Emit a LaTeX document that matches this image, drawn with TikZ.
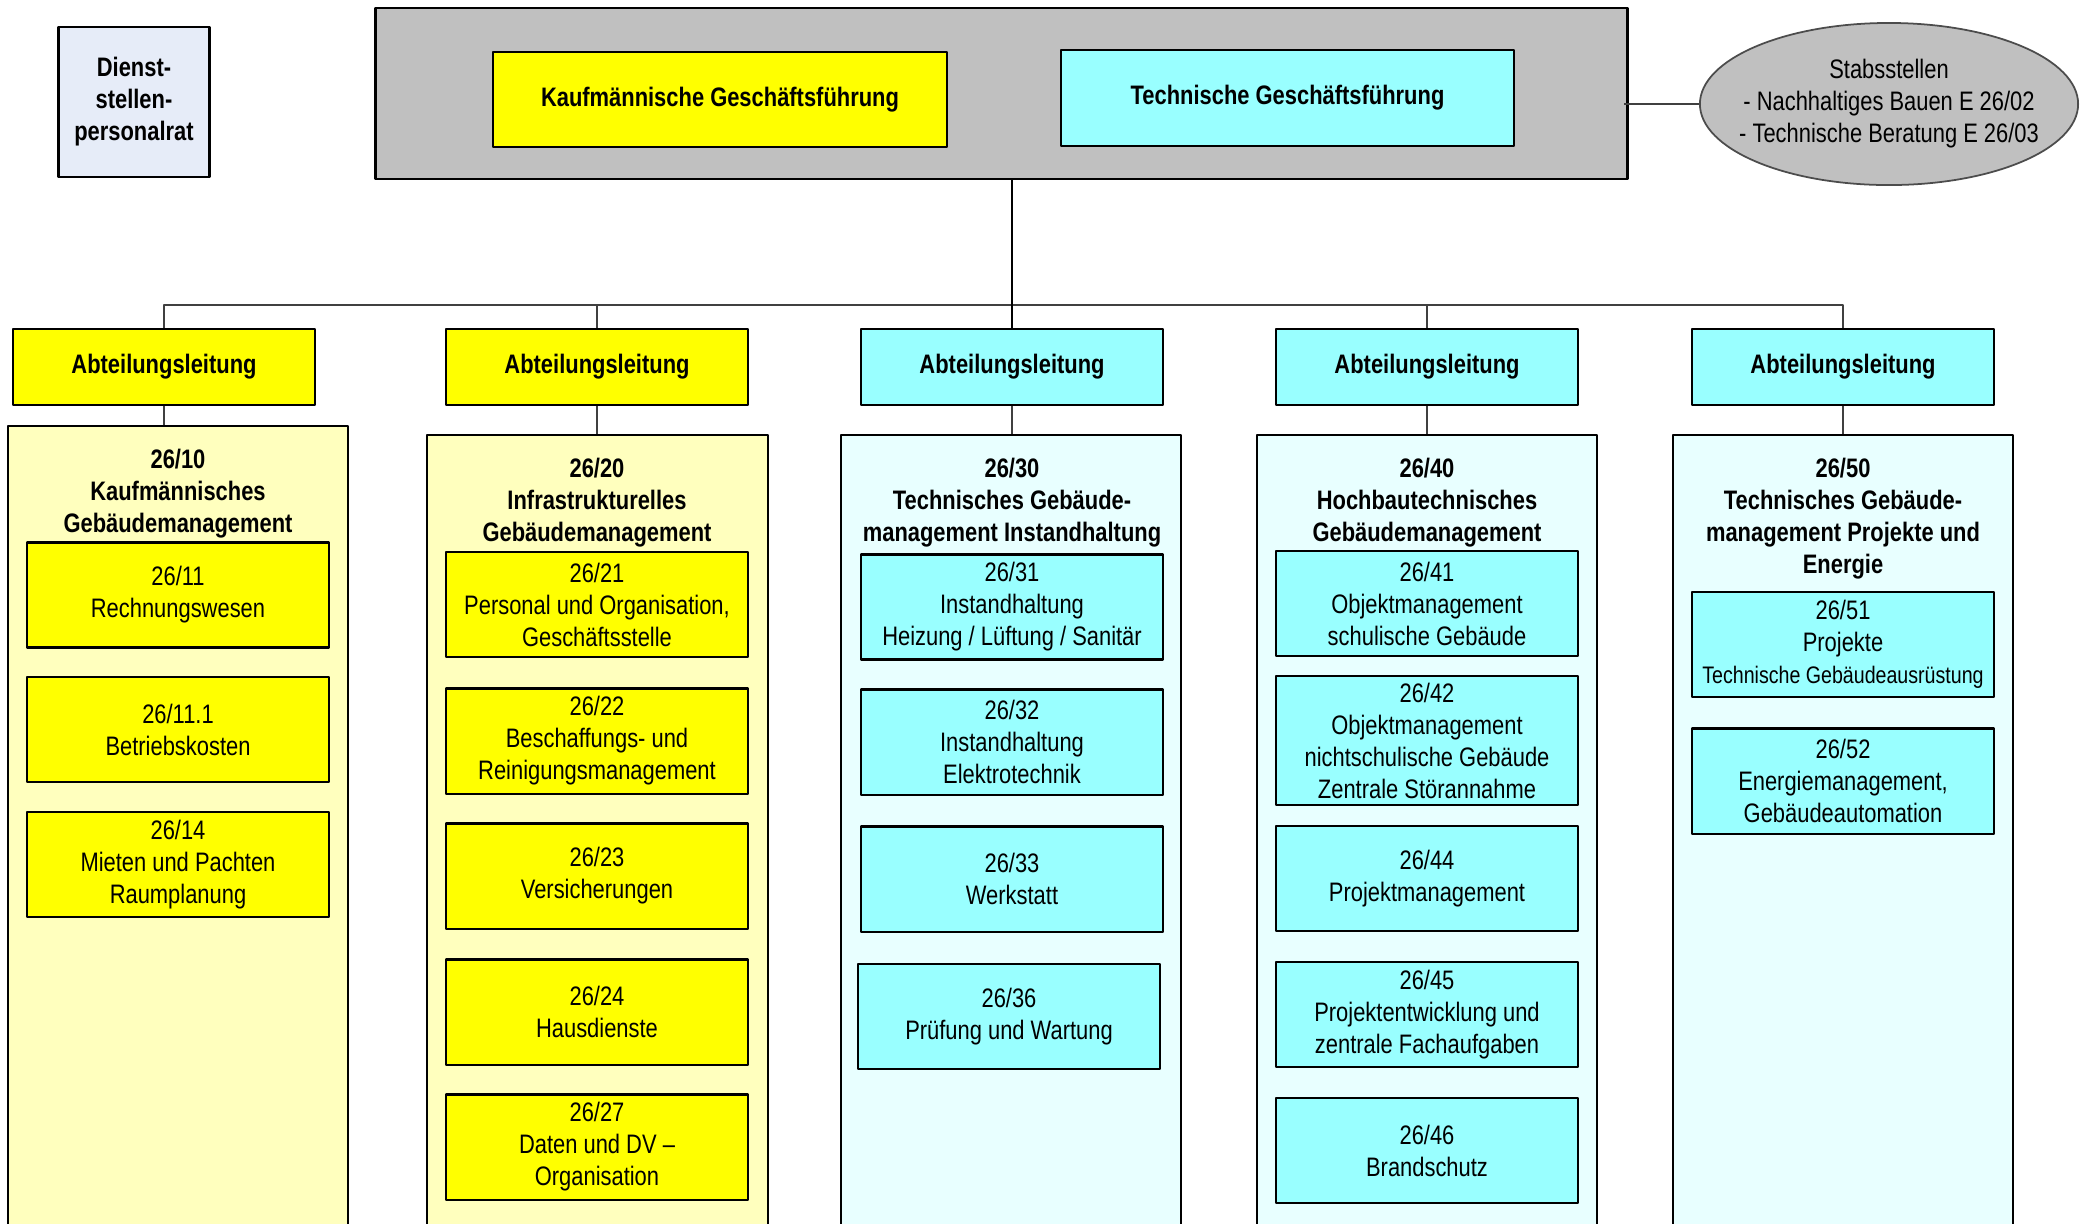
\documentclass[tikz,border=0pt]{standalone}
\usepackage{fontspec}
\setmainfont{Liberation Sans}[FakeStretch=0.82]
\usetikzlibrary{shapes.geometric}
\definecolor{gelb}{HTML}{FFFF00}
\definecolor{hellgelb}{HTML}{FFFFBE}
\definecolor{tuerkis}{HTML}{99FFFF}
\definecolor{helltuerkis}{HTML}{E8FFFF}
\definecolor{grau}{HTML}{C0C0C0}
\definecolor{pr}{HTML}{E6ECF8}
\begin{document}
\begin{tikzpicture}[x=0.01cm,y=-0.01cm,line join=round,
  font=\fontsize{7.6}{9.1}\selectfont,
  every node/.style={align=center,inner sep=1pt},
  rahmen/.style={draw,line width=0.6pt},
  unit/.style={rahmen,minimum width=3.02cm,minimum height=1.05cm},
  al/.style={rahmen,minimum width=3.02cm,minimum height=0.76cm,font=\fontsize{7.6}{9.1}\selectfont\bfseries},
  spalte/.style={rahmen,minimum width=3.4cm,minimum height=8.3cm,anchor=north},
  titel/.style={font=\fontsize{7.6}{9.1}\selectfont\bfseries},
  conn/.style={line width=0.5pt,black!75}]
\useasboundingbox (0,0) rectangle (2082,1223);
\clip (0,0) rectangle (2082,1223);
% Kopf
\node[rahmen,fill=pr,minimum width=1.51cm,minimum height=1.5cm,font=\fontsize{7.6}{9.1}\selectfont\bfseries] (dpr) at (134,102) {Dienst-\\stellen-\\personalrat};
\node[rahmen,line width=0.8pt,fill=grau,minimum width=12.51cm,minimum height=1.71cm] (gf) at (1001.5,93.5) {};
\node[rahmen,fill=gelb,minimum width=4.54cm,minimum height=0.95cm,font=\fontsize{7.6}{9.1}\selectfont\bfseries] (kgf) at (720,99.5) {Kaufmännische Geschäftsführung};
\node[rahmen,fill=tuerkis,minimum width=4.53cm,minimum height=0.96cm,font=\fontsize{7.6}{9.1}\selectfont\bfseries] (tgf) at (1287.5,98) {Technische Geschäftsführung};
\node[ellipse,draw=black!70,line width=0.5pt,fill=grau,minimum width=3.78cm,minimum height=1.62cm,inner sep=0pt] (stab) at (1889,104) {};
\node (stabtxt) at (stab) {Stabsstellen\\- Nachhaltiges Bauen E 26/02\\- Technische Beratung E 26/03};
\draw[conn] (stab.west) -- ([xshift=-0.05cm]stab.west -| gf.east);
% Abteilungen
\foreach \x/\c [count=\i] in {164/gelb,597/gelb,1012/tuerkis,1427/tuerkis,1843/tuerkis}
  \node[al,fill=\c] (al\i) at (\x,367) {Abteilungsleitung};
\draw[conn] (al1.north) -- ++(0,-23) -| (al5.north);
\foreach \i in {2,4}
  \draw[conn] (al\i.north) -- ++(0,-23);
\draw[line width=0.6pt] (al3.north) -- (al3.north |- gf.south);
\foreach \x/\y/\c [count=\i] in {178/425/hellgelb,597.5/434/hellgelb,1011/434/helltuerkis,1427/434/helltuerkis,1843/434/helltuerkis}{
  \node[spalte,fill=\c] (c\i) at (\x,\y) {};
  \draw[conn] (al\i.south) -- (al\i.south |- c\i.north);
}
% Titel
\node[titel] (t1) at (178,494) {26/10\\Kaufmännisches\\Gebäudemanagement};
\node[titel] (t2) at (597,503) {26/20\\Infrastrukturelles\\Gebäudemanagement};
\node[titel] (t3) at (1012,503) {26/30\\Technisches Gebäude-\\management Instandhaltung};
\node[titel] (t4) at (1427,503) {26/40\\Hochbautechnisches\\Gebäudemanagement};
\node[titel] (t5) at (1843,519) {26/50\\Technisches Gebäude-\\management Projekte und\\Energie};
% 26/10
\node[unit,fill=gelb] (u11) at (178,595) {26/11\\Rechnungswesen};
\node[unit,fill=gelb] (u111) at (178,729.5) {26/11.1\\Betriebskosten};
\node[unit,fill=gelb] (u14) at (178,864.5) {26/14\\Mieten und Pachten\\Raumplanung};
% 26/20
\node[unit,fill=gelb] (u21) at (597,604.5) {26/21\\Personal und Organisation,\\Geschäftsstelle};
\node[unit,fill=gelb] (u22) at (597,741) {26/22\\Beschaffungs- und\\Reinigungsmanagement};
\node[unit,fill=gelb] (u23) at (597,876) {26/23\\Versicherungen};
\node[unit,fill=gelb] (u24) at (597,1012) {26/24\\Hausdienste};
\node[unit,fill=gelb] (u27) at (597,1147) {26/27\\Daten und DV –\\Organisation};
% 26/30
\node[unit,fill=tuerkis] (u31) at (1012,607) {26/31\\Instandhaltung\\Heizung / Lüftung / Sanitär};
\node[unit,fill=tuerkis] (u32) at (1012,742) {26/32\\Instandhaltung\\Elektrotechnik};
\node[unit,fill=tuerkis] (u33) at (1012,879) {26/33\\Werkstatt};
\node[unit,fill=tuerkis] (u36) at (1009,1016.5) {26/36\\Prüfung und Wartung};
% 26/40
\node[unit,fill=tuerkis] (u41) at (1427,603.5) {26/41\\Objektmanagement\\schulische Gebäude};
\node[unit,fill=tuerkis,minimum height=1.29cm] (u42) at (1427,740.5) {26/42\\Objektmanagement\\nichtschulische Gebäude\\Zentrale Störannahme};
\node[unit,fill=tuerkis] (u44) at (1427,878.5) {26/44\\Projektmanagement};
\node[unit,fill=tuerkis] (u45) at (1427,1014.5) {26/45\\Projektentwicklung und\\zentrale Fachaufgaben};
\node[unit,fill=tuerkis] (u46) at (1427,1150.5) {26/46\\Brandschutz};
% 26/50
\node[unit,fill=tuerkis] (u51) at (1843,644.5) {26/51\\Projekte\\{\fontsize{6.8}{8.2}\selectfont Technische Gebäudeausrüstung}};
\node[unit,fill=tuerkis] (u52) at (1843,781) {26/52\\Energiemanagement,\\Gebäudeautomation};
\end{tikzpicture}
\end{document}
